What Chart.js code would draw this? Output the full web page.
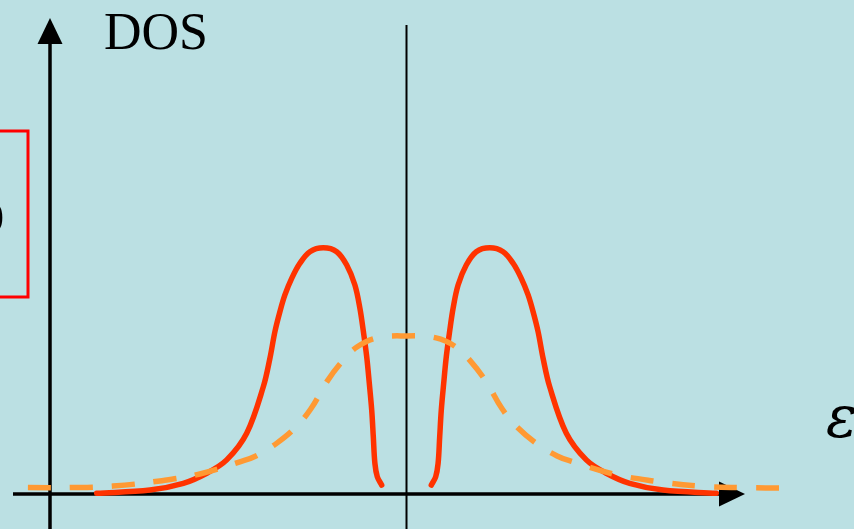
<!DOCTYPE html>
<html>
<head>
<meta charset="utf-8">
<script src="https://cdn.jsdelivr.net/npm/chart.js@4"></script>
<style>
  html, body { margin: 0; padding: 0; background: #bbe0e3; }
  #wrap { width: 854px; height: 529px; position: relative; }
</style>
</head>
<body>
<div id="wrap"><canvas id="dos-chart"></canvas></div>
<script>
// energy (relative to the Fermi level) and DOS
const gapLeftE = [-1.549, -1.283, -1.116, -0.999, -0.899, -0.799, -0.716, -0.683, -0.658, -0.633, -0.608, -0.574, -0.533, -0.483, -0.416, -0.349, -0.299, -0.258, -0.233, -0.216, -0.199, -0.186, -0.174, -0.166, -0.158, -0.146, -0.124];
const gapLeftD = [0.003, 0.016, 0.043, 0.084, 0.138, 0.246, 0.434, 0.549, 0.657, 0.738, 0.806, 0.873, 0.934, 0.981, 0.997, 0.981, 0.927, 0.846, 0.752, 0.660, 0.556, 0.448, 0.340, 0.232, 0.124, 0.070, 0.036];
const gapRightE = [0.124, 0.146, 0.158, 0.166, 0.174, 0.186, 0.199, 0.216, 0.233, 0.258, 0.299, 0.349, 0.416, 0.483, 0.533, 0.574, 0.608, 0.633, 0.658, 0.683, 0.716, 0.799, 0.899, 0.999, 1.116, 1.283, 1.549];
const gapRightD = [0.036, 0.070, 0.124, 0.232, 0.340, 0.448, 0.556, 0.660, 0.752, 0.846, 0.927, 0.981, 0.997, 0.981, 0.934, 0.873, 0.806, 0.738, 0.657, 0.549, 0.434, 0.246, 0.138, 0.084, 0.043, 0.016, 0.003];
const metalE = [-1.893, -1.673, -1.468, -1.233, -1.033, -0.833, -0.753, -0.648, -0.558, -0.478, -0.398, -0.318, -0.248, -0.148, 0, 0.148, 0.248, 0.318, 0.398, 0.478, 0.558, 0.648, 0.753, 0.833, 1.033, 1.233, 1.468, 1.673, 1.918];
const metalD = [0.026, 0.026, 0.032, 0.053, 0.081, 0.130, 0.154, 0.206, 0.267, 0.345, 0.455, 0.540, 0.595, 0.632, 0.640, 0.632, 0.595, 0.540, 0.455, 0.345, 0.267, 0.206, 0.154, 0.130, 0.081, 0.053, 0.032, 0.026, 0.024];

// axis layout in data units
const xMin = -2.0325, xMax = 2.2375;
const yMin = -0.1417, yMax = 2.0;
const yAxisAt = -1.7825;
const yAxisTop = 1.927;
const xAxisFrom = -1.9675, xAxisTip = 1.6925;
const fermiTop = 1.899;

const toPoints = (xs, ys) => xs.map((x, i) => ({ x, y: ys[i] }));

const bgPlugin = {
    id: 'bg',
    beforeDraw(chart) {
        const { ctx, width, height } = chart;
        ctx.save();
        ctx.fillStyle = '#bbe0e3';
        ctx.fillRect(0, 0, width, height);
        ctx.restore();
    }
};

const axesPlugin = {
    id: 'axes',
    beforeDatasetsDraw(chart) {
        const { ctx, height } = chart;
        const sx = chart.scales.x, sy = chart.scales.y;
        const ax = sx.getPixelForValue(yAxisAt);
        const ay0 = sy.getPixelForValue(0);
        const ayTop = sy.getPixelForValue(yAxisTop);
        const fx = sx.getPixelForValue(0);
        const xTip = sx.getPixelForValue(xAxisTip);
        ctx.save();
        ctx.strokeStyle = '#000';
        ctx.fillStyle = '#000';

        // fermi level line
        ctx.lineWidth = 2;
        ctx.beginPath();
        ctx.moveTo(fx, sy.getPixelForValue(fermiTop));
        ctx.lineTo(fx, height);
        ctx.stroke();

        // y axis + arrow
        ctx.lineWidth = 3.5;
        ctx.beginPath();
        ctx.moveTo(ax, height);
        ctx.lineTo(ax, ayTop + 20);
        ctx.stroke();
        ctx.beginPath();
        ctx.moveTo(ax, ayTop);
        ctx.lineTo(ax - 12.5, ayTop + 26);
        ctx.lineTo(ax + 12.5, ayTop + 26);
        ctx.closePath();
        ctx.fill();

        // x axis + arrow
        ctx.beginPath();
        ctx.moveTo(sx.getPixelForValue(xAxisFrom), ay0);
        ctx.lineTo(xTip - 20, ay0);
        ctx.stroke();
        ctx.beginPath();
        ctx.moveTo(xTip, ay0);
        ctx.lineTo(xTip - 26, ay0 - 12.5);
        ctx.lineTo(xTip - 26, ay0 + 12.5);
        ctx.closePath();
        ctx.fill();

        // labels
        ctx.font = '52px "Liberation Serif"';
        ctx.textBaseline = 'alphabetic';
        ctx.fillText('DOS', 104, 49);
        ctx.font = 'italic 58px "DejaVu Serif"';
        ctx.fillText('\u03b5', 826, 437);

        // cropped red box on the left
        ctx.strokeStyle = '#ff0000';
        ctx.lineWidth = 3;
        ctx.strokeRect(-10, 131, 38, 166);
        ctx.fillStyle = '#000';
        ctx.font = '44px "Liberation Serif"';
        ctx.textAlign = 'right';
        ctx.fillText('0', 4, 232);
        ctx.restore();
    }
};

const curveStyle = {
    showLine: true,
    borderWidth: 5.5,
    pointRadius: 0,
    tension: 0.35,
    borderCapStyle: 'round'
};

new Chart(document.getElementById('dos-chart'), {
    type: 'scatter',
    data: {
        datasets: [
            { ...curveStyle, label: 'gap left', data: toPoints(gapLeftE, gapLeftD), borderColor: '#ff3300', order: 2 },
            { ...curveStyle, label: 'gap right', data: toPoints(gapRightE, gapRightD), borderColor: '#ff3300', order: 2 },
            {
                ...curveStyle,
                label: 'metal',
                data: toPoints(metalE, metalD),
                borderColor: '#ff9933',
                borderDash: [23, 19],
                borderCapStyle: 'butt',
                tension: 0.4,
                order: 1
            }
        ]
    },
    options: {
        responsive: true,
        maintainAspectRatio: false,
        animation: false,
        layout: { padding: 0 },
        plugins: { legend: { display: false }, tooltip: { enabled: false } },
        scales: {
            x: { type: 'linear', min: xMin, max: xMax, display: false },
            y: { type: 'linear', min: yMin, max: yMax, display: false }
        }
    },
    plugins: [bgPlugin, axesPlugin]
});
</script>
</body>
</html>
